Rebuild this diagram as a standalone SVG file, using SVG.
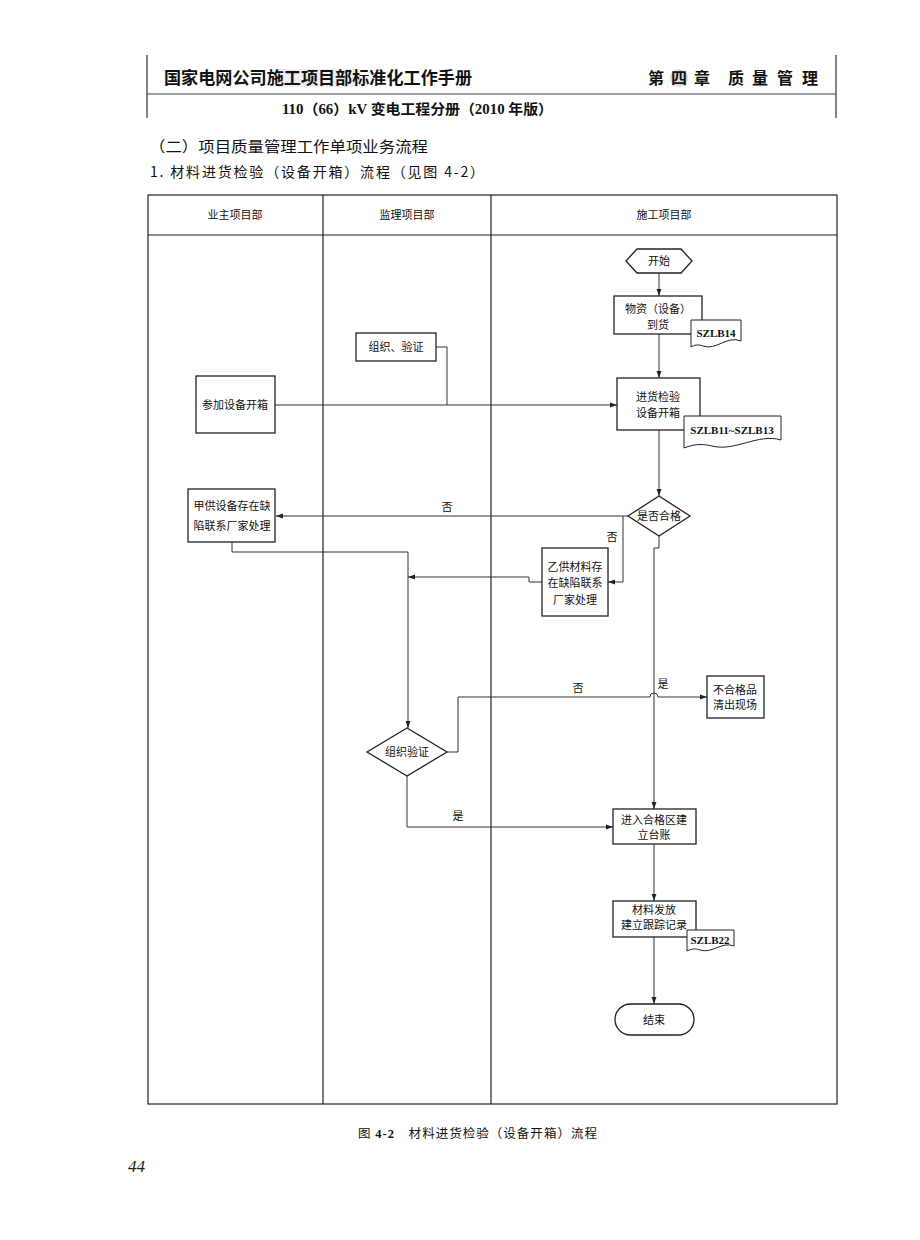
<svg xmlns="http://www.w3.org/2000/svg" width="920" height="1240" viewBox="0 0 920 1240">
<defs>
<marker id="ah" viewBox="0 0 10 10" refX="10" refY="5" markerWidth="7" markerHeight="7" markerUnits="userSpaceOnUse" orient="auto"><path d="M0,1.5 L10,5 L0,8.5 Z" fill="#222"/></marker>
<style>
.t{font-family:"Noto Sans CJK SC",sans-serif;font-size:11px;fill:#111;text-anchor:middle}
.box{fill:#fff;stroke:#222;stroke-width:1.3}
.ln{fill:none;stroke:#333;stroke-width:1}
.doc{fill:#fff;stroke:#222;stroke-width:1}
.code{font-family:"Liberation Serif","Noto Sans CJK SC",serif;font-weight:bold;font-size:11px;fill:#111;text-anchor:middle}
.frame{fill:none;stroke:#222;stroke-width:1.2}
</style>
</defs>
<rect width="920" height="1240" fill="#fff"/>

<g id="page-header">
<line x1="147" y1="55" x2="147" y2="118" stroke="#333" stroke-width="1.2"/>
<line x1="836" y1="55" x2="836" y2="118" stroke="#333" stroke-width="1.2"/>
<line x1="147" y1="94" x2="836" y2="94" stroke="#444" stroke-width="1"/>
<ellipse cx="679" cy="78" rx="9" ry="9" fill="#ddd"/>
<rect x="278" y="69" width="82" height="18" fill="#eee"/>
<text x="164" y="84" font-family="Noto Sans CJK SC,sans-serif" font-weight="bold" font-size="17" fill="#111" textLength="308" lengthAdjust="spacingAndGlyphs">国家电网公司施工项目部标准化工作手册</text>
<text x="648 671 694 728 752 777 802" y="84" font-family="Noto Sans CJK SC,sans-serif" font-weight="bold" font-size="16" fill="#111">第四章质量管理</text>
<text x="282" y="114" font-family="Liberation Serif,Noto Sans CJK SC,serif" font-weight="bold" font-size="14" fill="#111" textLength="271" lengthAdjust="spacingAndGlyphs">110（66）kV 变电工程分册（2010 年版）</text>
<text x="149" y="152" font-family="Noto Sans CJK SC,sans-serif" font-size="15" fill="#111" textLength="279" lengthAdjust="spacingAndGlyphs">（二）项目质量管理工作单项业务流程</text>
<text x="150" y="177" font-family="Noto Sans CJK SC,sans-serif" font-size="14" fill="#111" textLength="334" lengthAdjust="spacing">1. 材料进货检验（设备开箱）流程（见图 4-2）</text>
</g>

<g id="swimlanes">
<rect class="frame" x="148" y="195" width="689" height="909"/>
<line class="frame" x1="148" y1="235" x2="837" y2="235"/>
<line class="frame" x1="323" y1="195" x2="323" y2="1104"/>
<line class="frame" x1="491" y1="195" x2="491" y2="1104"/>
<text class="t" x="235" y="219">业主项目部</text>
<text class="t" x="407" y="219">监理项目部</text>
<text class="t" x="664" y="219">施工项目部</text>
</g>

<g id="connectors">
<line class="ln" x1="659" y1="273" x2="659" y2="296" marker-end="url(#ah)"/>
<line class="ln" x1="659" y1="334" x2="659" y2="378" marker-end="url(#ah)"/>
<line class="ln" x1="275" y1="405" x2="617" y2="405" stroke="#555" stroke-width="1.6" marker-end="url(#ah)"/>
<polyline class="ln" points="436,347 447,347 447,405"/>
<line class="ln" x1="659" y1="430" x2="659" y2="496" marker-end="url(#ah)"/>
<line class="ln" x1="628" y1="516" x2="276" y2="516" marker-end="url(#ah)"/>
<text class="t" x="447" y="511">否</text>
<polyline class="ln" points="623,516 623,582 608,582" marker-end="url(#ah)"/>
<text class="t" x="612" y="541">否</text>
<polyline class="ln" points="659,536 659,548 654,548 654,809" marker-end="url(#ah)"/>
<text class="t" x="663" y="688">是</text>
<polyline class="ln" points="232,542 232,552 408,552 408,728" marker-end="url(#ah)"/>
<polyline class="ln" points="542,582 529,582 529,577 408,577" marker-end="url(#ah)"/>
<path class="ln" d="M447,752 H458 V697 H650 A4,4 0 0 1 658,697 H707" marker-end="url(#ah)"/>
<text class="t" x="578" y="692">否</text>
<polyline class="ln" points="407,776 407,827 613,827" marker-end="url(#ah)"/>
<text class="t" x="458" y="820">是</text>
<line class="ln" x1="654" y1="844" x2="654" y2="901" marker-end="url(#ah)"/>
<line class="ln" x1="654" y1="937" x2="654" y2="1004" marker-end="url(#ah)"/>
</g>

<g id="start">
<polygon class="box" points="626,261 637,249 681,249 692,261 681,273 637,273"/>
<text class="t" x="659" y="265">开始</text>
</g>

<g id="arrival">
<rect class="box" x="614" y="296" width="88" height="38"/>
<text class="t" x="658" y="313">物资（设备）</text>
<text class="t" x="658" y="329">到货</text>
</g>
<g id="doc-szlb14">
<path class="doc" d="M691,320 H741 V341 C727,335 716,351 703,346 C698,344 694,345 691,347 Z"/>
<text class="code" x="716" y="337">SZLB14</text>
</g>

<g id="organize-verify">
<rect class="box" x="356" y="333" width="80" height="28"/>
<text class="t" x="396" y="351">组织、验证</text>
</g>

<g id="owner-unbox">
<rect class="box" x="196" y="376" width="79" height="57"/>
<text class="t" x="235" y="409">参加设备开箱</text>
</g>

<g id="inspect">
<rect class="box" x="617" y="378" width="83" height="52"/>
<text class="t" x="658" y="401">进货检验</text>
<text class="t" x="658" y="417">设备开箱</text>
</g>
<g id="doc-szlb11-13">
<path class="doc" d="M684,416 H781 V440 C758,433 735,452 712,446 C700,443 692,445 684,448 Z"/>
<text class="code" x="732" y="434">SZLB11~SZLB13</text>
</g>

<g id="qualified">
<polygon class="box" points="628,516 659,496 690,516 659,536"/>
<text class="t" x="659" y="520">是否合格</text>
</g>

<g id="owner-defect">
<rect class="box" x="188" y="489" width="87" height="53"/>
<text class="t" x="232" y="510">甲供设备存在缺</text>
<text class="t" x="232" y="530">陷联系厂家处理</text>
</g>

<g id="contractor-defect">
<rect class="box" x="542" y="548" width="66" height="68"/>
<text class="t" x="575" y="571">乙供材料存</text>
<text class="t" x="575" y="587">在缺陷联系</text>
<text class="t" x="575" y="604">厂家处理</text>
</g>

<g id="reject">
<rect class="box" x="707" y="676" width="57" height="42"/>
<text class="t" x="735" y="694">不合格品</text>
<text class="t" x="735" y="709">清出现场</text>
</g>

<g id="verify">
<polygon class="box" points="367,752 407,728 447,752 407,776"/>
<text class="t" x="407" y="756">组织验证</text>
</g>

<g id="ledger">
<rect class="box" x="613" y="809" width="83" height="35"/>
<text class="t" x="654" y="824">进入合格区建</text>
<text class="t" x="654" y="839">立台账</text>
</g>

<g id="issue">
<rect class="box" x="613" y="901" width="83" height="36"/>
<text class="t" x="654" y="914" font-size="10.5">材料发放</text>
<text class="t" x="654" y="929" font-size="10.5">建立跟踪记录</text>
</g>
<g id="doc-szlb22">
<path class="doc" d="M687,930 H734 V946 C722,941 712,954 700,950 C695,948 691,949 687,951 Z"/>
<text class="code" x="710" y="944">SZLB22</text>
</g>

<g id="end">
<rect class="box" x="615" y="1004" width="79" height="31" rx="15.5" ry="15.5"/>
<text class="t" x="654" y="1024">结束</text>
</g>

<g id="caption">
<text x="358" y="1138" font-family="Noto Sans CJK SC,sans-serif" font-size="12.5" fill="#111" textLength="239" lengthAdjust="spacing">图 <tspan font-family="Liberation Serif,serif" font-weight="bold">4-2</tspan>　材料进货检验（设备开箱）流程</text>
<text x="128" y="1172" font-family="Liberation Serif,serif" font-style="italic" font-size="17" fill="#222">44</text>
</g>
</svg>
